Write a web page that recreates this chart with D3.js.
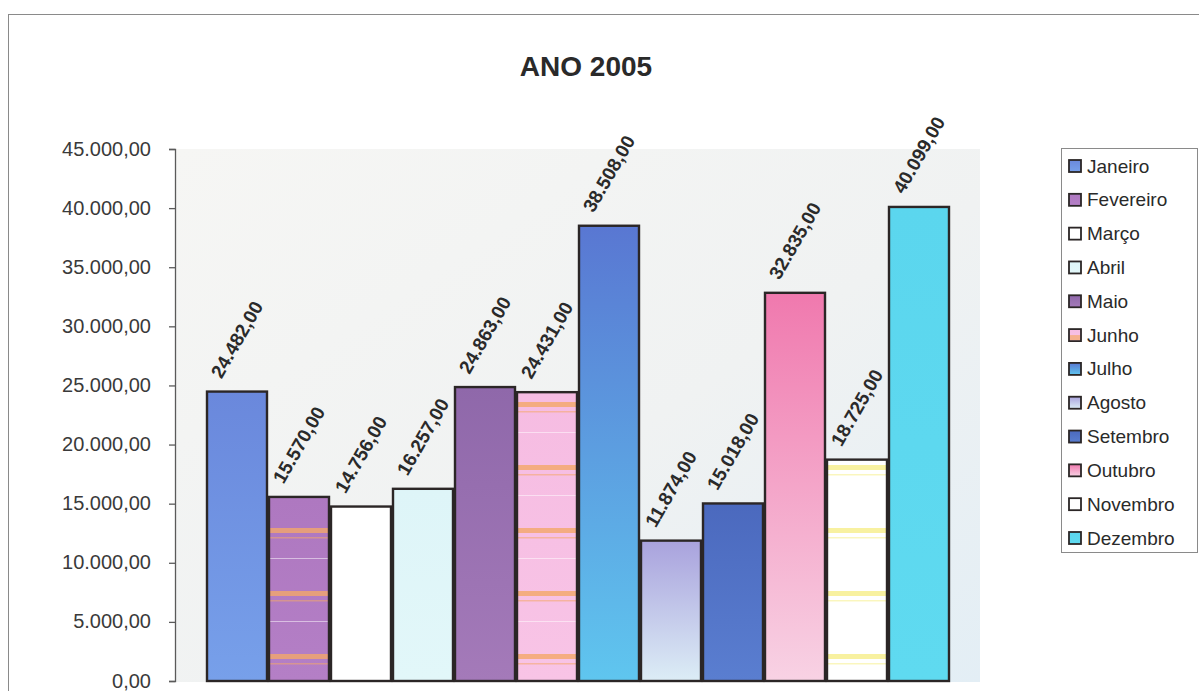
<!DOCTYPE html>
<html>
<head>
<meta charset="utf-8">
<script src="https://cdn.jsdelivr.net/npm/d3@7"></script>
<style>
  html, body { margin: 0; padding: 0; background: #ffffff; }
  svg { display: block; font-family: Arial, "Liberation Sans", sans-serif; }
</style>
</head>
<body>
<svg id="chart" width="1199" height="691"></svg>
<script>
// Monthly totals for 2005
const months = ["Janeiro", "Fevereiro", "Março", "Abril", "Maio", "Junho",
                "Julho", "Agosto", "Setembro", "Outubro", "Novembro", "Dezembro"];
const values = [24482, 15570, 14756, 16257, 24863, 24431,
                38508, 11874, 15018, 32835, 18725, 40099];
const yTicks = [0, 5000, 10000, 15000, 20000, 25000, 30000, 35000, 40000, 45000];
const title = "ANO 2005";

// Fill of each month: top colour, bottom colour, optional stripe colour
const fillTop    = ["#6a88dc", "#ae78c0", "#ffffff", "#def5f8", "#8f68aa", "#f6bce2",
                    "#5977d2", "#a9a2dd", "#4b69be", "#f079ae", "#ffffff", "#5bd6ee"];
const fillBottom = ["#77a0ea", "#b47fc6", "#ffffff", "#e2f7f9", "#a47ab9", "#f8c4e6",
                    "#5fc6ef", "#dcedf6", "#5a7ed0", "#f8d2e4", "#ffffff", "#5fdaf0"];
const stripe     = [null, "#f2a86a", null, null, null, "#f4a868",
                    null, null, null, null, "#f6ee88", null];
const swatchStripe = [false, false, false, false, false, true,
                      false, false, false, false, false, false];

const svg = d3.select("#chart");
const W = 1199, H = 691;

const plot = { left: 176, right: 980, top: 149, bottom: 682 };
const barsLeft = 206, barsRight = 950;

const ptBR = d3.formatLocale({ decimal: ",", thousands: ".", grouping: [3], currency: ["R$ ", ""] });
const fmt = ptBR.format(",.2f");

const x = d3.scaleBand().domain(months).range([barsLeft, barsRight]).padding(0);
const y = d3.scaleLinear().domain([0, 45000]).range([plot.bottom - 1, plot.top]);

const defs = svg.append("defs");

// plot area wash
const bg = defs.append("linearGradient").attr("id", "plotBg")
  .attr("x1", 0).attr("y1", 0).attr("x2", 1).attr("y2", 1);
bg.append("stop").attr("offset", 0).attr("stop-color", "#f6f6f4");
bg.append("stop").attr("offset", 0.55).attr("stop-color", "#f0f2f2");
bg.append("stop").attr("offset", 1).attr("stop-color", "#e3eef5");

// vertical gradients per month
months.forEach((m, i) => {
  const g = defs.append("linearGradient").attr("id", "grad" + i)
    .attr("x1", 0).attr("y1", 0).attr("x2", 0).attr("y2", 1);
  g.append("stop").attr("offset", 0).attr("stop-color", fillTop[i]);
  g.append("stop").attr("offset", 1).attr("stop-color", fillBottom[i]);
  if (stripe[i]) {
    // horizontal bands repeating down the bar, aligned in page space
    const p = defs.append("pattern").attr("id", "stripe" + i)
      .attr("patternUnits", "userSpaceOnUse")
      .attr("x", 0).attr("y", 24).attr("width", 20).attr("height", 63);
    p.append("rect").attr("x", 0).attr("y", 0).attr("width", 20).attr("height", 5)
      .attr("fill", stripe[i]).attr("opacity", 0.8);
    p.append("rect").attr("x", 0).attr("y", 9).attr("width", 20).attr("height", 1.5)
      .attr("fill", stripe[i]).attr("opacity", 0.55);
    p.append("rect").attr("x", 0).attr("y", 30).attr("width", 20).attr("height", 1)
      .attr("fill", "#ffffff").attr("opacity", 0.5);
  }
});

// outer chart frame
svg.append("rect")
  .attr("x", 8.5).attr("y", 14.5).attr("width", W + 20).attr("height", H + 20)
  .attr("fill", "none").attr("stroke", "#8a8a8a").attr("stroke-width", 1);

// title
svg.append("text")
  .attr("x", 586).attr("y", 76)
  .attr("text-anchor", "middle")
  .attr("font-size", 28).attr("font-weight", "bold").attr("fill", "#2a2a2a")
  .text(title);

// plot area
svg.append("rect")
  .attr("x", plot.left).attr("y", plot.top)
  .attr("width", plot.right - plot.left).attr("height", plot.bottom - plot.top)
  .attr("fill", "url(#plotBg)");

// y axis
const yAxis = d3.axisLeft(y).tickValues(yTicks).tickFormat(fmt).tickSize(6).tickPadding(18);
const yG = svg.append("g").attr("transform", `translate(${plot.left - 1},0)`).call(yAxis);
yG.select(".domain").attr("stroke", "#5a5a5a").attr("stroke-width", 1.3);
yG.selectAll(".tick line").attr("stroke", "#5a5a5a").attr("stroke-width", 1.3);
yG.selectAll(".tick text")
  .attr("font-size", 20).attr("fill", "#3a3a3a")
  .attr("dy", "0.3em")
  .attr("font-family", "Arial, 'Liberation Sans', sans-serif");

// bars
const bars = svg.append("g");
months.forEach((m, i) => {
  const x0 = x(m), bw = x.bandwidth(), top = y(values[i]), bot = y(0);
  bars.append("rect")
    .attr("x", x0).attr("y", top).attr("width", bw).attr("height", bot - top)
    .attr("fill", `url(#grad${i})`);
  if (stripe[i]) {
    bars.append("rect")
      .attr("x", x0).attr("y", top).attr("width", bw).attr("height", bot - top)
      .attr("fill", `url(#stripe${i})`);
  }
  bars.append("rect")
    .attr("x", x0 + 1).attr("y", top).attr("width", bw - 2).attr("height", bot - top)
    .attr("fill", "none").attr("stroke", "#2b2626").attr("stroke-width", 2.4);
});

// rotated value labels sitting above each bar
const ang = 60, rad = ang * Math.PI / 180, fs = 19;
const labels = svg.append("g");
months.forEach((m, i) => {
  const t = labels.append("text")
    .attr("font-size", fs).attr("font-weight", "bold").attr("fill", "#2a2a2a")
    .attr("text-anchor", "middle").attr("dominant-baseline", "central")
    .text(fmt(values[i]));
  const w = t.node().getComputedTextLength();
  const h = fs * 0.72;
  const boxH = w * Math.sin(rad) + h * Math.cos(rad);
  const cx = x(m) + x.bandwidth() / 2;
  const cy = y(values[i]) - 12 - boxH / 2;
  t.attr("transform", `translate(${cx},${cy}) rotate(${-ang})`);
});

// legend
const lg = svg.append("g");
lg.append("rect")
  .attr("x", 1061.5).attr("y", 148.5).attr("width", 136).attr("height", 404)
  .attr("fill", "#ffffff").attr("stroke", "#8a8a8a").attr("stroke-width", 1);
const ly = d3.scalePoint().domain(months).range([166, 538]);
months.forEach((m, i) => {
  const cy = ly(m);
  lg.append("rect")
    .attr("x", 1069).attr("y", cy - 6).attr("width", 12).attr("height", 12)
    .attr("fill", `url(#grad${i})`)
    .attr("stroke", "#2b2626").attr("stroke-width", 1.8);
  if (swatchStripe[i]) {
    lg.append("rect")
      .attr("x", 1070).attr("y", cy).attr("width", 10).attr("height", 5)
      .attr("fill", stripe[i]).attr("opacity", 0.7);
  }
  lg.append("text")
    .attr("x", 1087).attr("y", cy)
    .attr("dominant-baseline", "central")
    .attr("font-size", 19).attr("fill", "#2a2a2a")
    .text(m);
});
</script>
</body>
</html>
